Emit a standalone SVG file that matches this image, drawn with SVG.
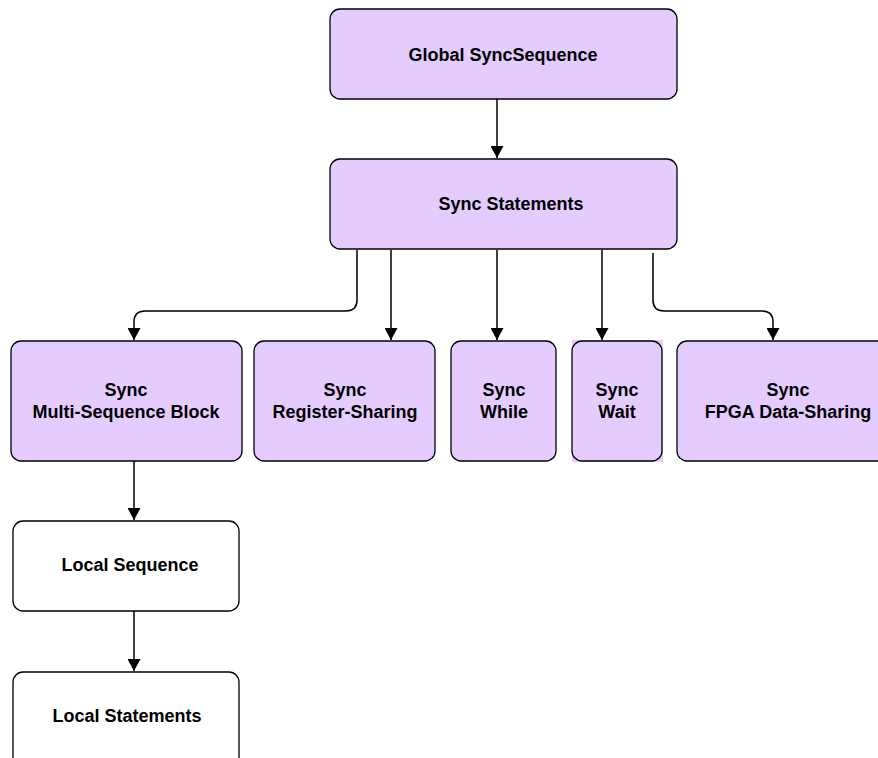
<svg xmlns="http://www.w3.org/2000/svg" width="878" height="758" viewBox="0 0 878 758">
<style>
.n{fill:#E5CCFF;stroke:#000;stroke-width:1.3}
.w{fill:#fff;stroke:#000;stroke-width:1.3}
.t{font-family:"Liberation Sans",Arial,sans-serif;font-weight:bold;font-size:18px;fill:#000;text-anchor:middle}
.c{fill:none;stroke:#000;stroke-width:1.5}
</style>
<defs>
<marker id="a" viewBox="0 0 12 13" refX="12" refY="6.5" markerWidth="12" markerHeight="13" markerUnits="userSpaceOnUse" orient="auto">
<path d="M0,0 L12,6.5 L0,13 Z" fill="#000"/>
</marker>
</defs>
<rect width="878" height="758" fill="#fff"/>
<g id="connectors">
<path class="c" d="M497,99 V158" marker-end="url(#a)"/>
<path class="c" d="M357,250 V300 Q357,311 346,311 H145 Q134,311 134,322 V340" marker-end="url(#a)"/>
<path class="c" d="M391,250 V340" marker-end="url(#a)"/>
<path class="c" d="M497,250 V340" marker-end="url(#a)"/>
<path class="c" d="M602,250 V340" marker-end="url(#a)"/>
<path class="c" d="M653,253 V300 Q653,311 664,311 H762 Q773,311 773,322 V340" marker-end="url(#a)"/>
<path class="c" d="M134,461 V520" marker-end="url(#a)"/>
<path class="c" d="M134,611 V671" marker-end="url(#a)"/>
</g>
<g id="global">
<rect class="n" x="330" y="9" width="347" height="90" rx="10"/>
<text class="t" x="503" y="61">Global SyncSequence</text>
</g>
<g id="statements">
<rect class="n" x="330" y="159" width="347" height="90" rx="10"/>
<text class="t" x="511" y="210">Sync Statements</text>
</g>
<g id="multiseq">
<rect class="n" x="11" y="341" width="231" height="120" rx="10"/>
<text class="t" x="126" y="396">Sync</text>
<text class="t" x="126" y="418">Multi-Sequence Block</text>
</g>
<g id="register">
<rect class="n" x="254" y="341" width="181" height="120" rx="10"/>
<text class="t" x="345" y="396">Sync</text>
<text class="t" x="345" y="418">Register-Sharing</text>
</g>
<g id="while">
<rect class="n" x="451" y="341" width="105" height="120" rx="10"/>
<text class="t" x="504" y="396">Sync</text>
<text class="t" x="504" y="418">While</text>
</g>
<g id="wait">
<rect x="572" y="340" width="91" height="122" fill="#E5CCFF"/>
<rect class="n" x="572" y="341" width="90" height="120" rx="10"/>
<text class="t" x="617" y="396">Sync</text>
<text class="t" x="617" y="418">Wait</text>
</g>
<g id="fpga">
<rect class="n" x="677" y="341" width="215" height="120" rx="10"/>
<text class="t" x="788" y="396">Sync</text>
<text class="t" x="788" y="418">FPGA Data-Sharing</text>
</g>
<g id="localseq">
<rect class="w" x="13" y="521" width="226" height="90" rx="10"/>
<text class="t" x="130" y="571">Local Sequence</text>
</g>
<g id="localstmt">
<rect class="w" x="13" y="672" width="226" height="96" rx="10"/>
<text class="t" x="127" y="722">Local Statements</text>
</g>
</svg>
